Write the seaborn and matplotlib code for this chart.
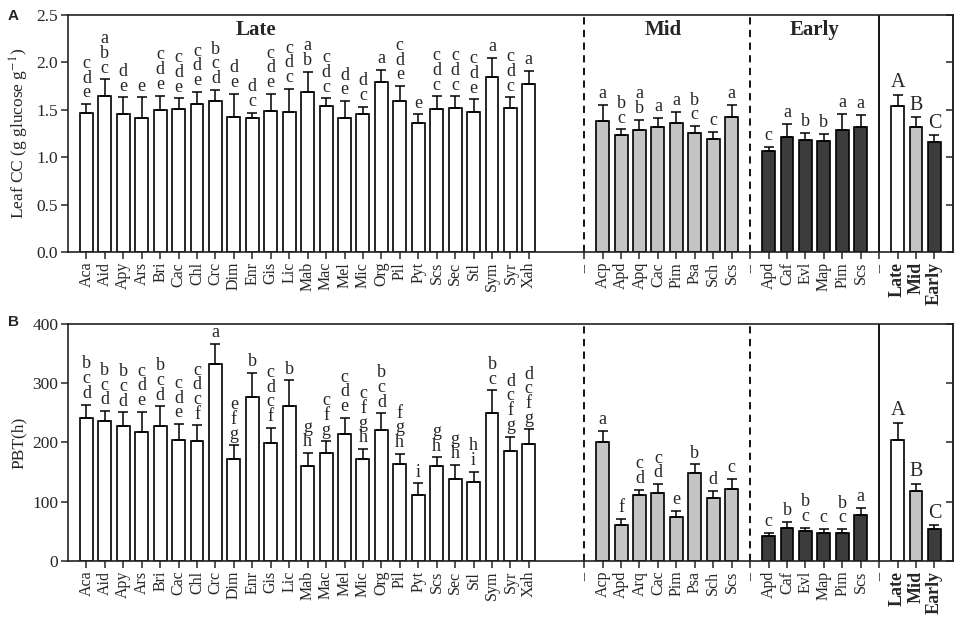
import numpy as np
import pandas as pd
import matplotlib
matplotlib.use("Agg")
import matplotlib.pyplot as plt
import seaborn as sns

# ---------------- data ----------------
late_names = ["Aca", "Aid", "Apy", "Ars", "Bri", "Cac", "Chl", "Crc", "Dim", "Enr",
              "Gis", "Lic", "Mab", "Mac", "Mel", "Mic", "Org", "Pil", "Pyt", "Scs",
              "Sec", "Stl", "Sym", "Syr", "Xah"]
mid_names_a = ["Acp", "Apd", "Apq", "Cac", "Pim", "Psa", "Sch", "Scs"]
mid_names_b = ["Acp", "Apd", "Arq", "Cac", "Pim", "Psa", "Sch", "Scs"]
early_names = ["Apd", "Caf", "Evl", "Map", "Pim", "Scs"]
group_names = ["Late", "Mid", "Early"]

# Panel A: leaf construction cost
late_cc = [1.47, 1.65, 1.45, 1.41, 1.50, 1.51, 1.56, 1.59, 1.42, 1.41, 1.49, 1.48, 1.69,
           1.54, 1.41, 1.46, 1.79, 1.59, 1.36, 1.51, 1.52, 1.48, 1.85, 1.52, 1.77]
late_cc_err = [0.09, 0.17, 0.18, 0.22, 0.15, 0.11, 0.13, 0.12, 0.25, 0.06, 0.18, 0.24, 0.21,
               0.08, 0.18, 0.07, 0.13, 0.16, 0.09, 0.13, 0.12, 0.13, 0.20, 0.11, 0.14]
late_cc_let = ["cde", "abc", "de", "e", "cde", "cde", "cde", "bcd", "de", "dc", "cde", "cdc", "ab",
               "cdc", "de", "dc", "a", "cde", "e", "cdc", "cdc", "cde", "a", "cdc", "a"]
mid_cc = [1.385, 1.234, 1.283, 1.315, 1.361, 1.259, 1.195, 1.42]
mid_cc_err = [0.17, 0.06, 0.11, 0.10, 0.12, 0.07, 0.07, 0.13]
mid_cc_let = ["a", "bc", "ab", "a", "a", "bc", "c", "a"]
early_cc = [1.062, 1.21, 1.178, 1.167, 1.29, 1.315]
early_cc_err = [0.05, 0.14, 0.08, 0.08, 0.17, 0.13]
early_cc_let = ["c", "a", "b", "b", "a", "a"]
group_cc = [1.54, 1.315, 1.16]
group_cc_err = [0.12, 0.105, 0.07]
group_cc_let = ["A", "B", "C"]

# Panel B: PBT (h)
late_pbt = [241, 237, 228, 217, 227, 205, 202, 332, 172, 276, 199, 262, 161,
            183, 214, 172, 221, 164, 112, 160, 138, 134, 250, 185, 197]
late_pbt_err = [23, 16, 23, 35, 34, 26, 27, 34, 23, 42, 26, 43, 21,
                19, 28, 17, 28, 17, 19, 15, 24, 17, 38, 25, 25]
late_pbt_let = ["bcd", "bcd", "bcd", "cde", "bcd", "cde", "cdcf", "a", "efg", "b", "cdcf", "b", "gh",
                "cfg", "cde", "cfgh", "bcd", "fgh", "i", "gh", "gh", "hi", "bc", "dcfg", "dcfg"]
mid_pbt = [201, 61, 112, 115, 74, 148, 107, 121]
mid_pbt_err = [19, 10, 8, 15, 10, 15, 11, 18]
mid_pbt_let = ["a", "f", "cd", "cd", "e", "b", "d", "c"]
early_pbt = [43, 56, 51, 48, 48, 78]
early_pbt_err = [5, 10, 5, 6, 6, 12]
early_pbt_let = ["c", "b", "bc", "c", "bc", "a"]
group_pbt = [204, 118, 54]
group_pbt_err = [29, 12, 6]
group_pbt_let = ["A", "B", "C"]

# ---------------- style ----------------
sns.set_style("ticks")
plt.rcParams["font.family"] = ["Liberation Serif", "DejaVu Serif"]
plt.rcParams["mathtext.fontset"] = "stix"

COLORS = {"Late": "#ffffff", "Mid": "#c4c4c4", "Early": "#3c3c3c"}


def build(mid_names, vals, errs, lets):
    """Return dataframe, category order and tick labels."""
    rows, order, labels = [], [], []

    def add(prefix, names, v, e, l, color):
        for i, n in enumerate(names):
            key = f"{prefix}{i}"
            order.append(key)
            labels.append(n)
            rows.append(dict(key=key, value=v[i], err=e[i], let=l[i], color=color))

    def spacer(key, lab):
        order.append(key)
        labels.append(lab)

    add("L", late_names, vals[0], errs[0], lets[0], "Late")
    spacer("gap1", "")
    spacer("gap2", "")
    spacer("sep1", "--")
    add("M", mid_names, vals[1], errs[1], lets[1], "Mid")
    spacer("sep2", "--")
    add("E", early_names, vals[2], errs[2], lets[2], "Early")
    spacer("sep3", "--")
    add("G", group_names, vals[3], errs[3], lets[3], None)
    df = pd.DataFrame(rows)
    df.loc[df.key.str.startswith("G"), "color"] = group_names
    return df, order, labels


def draw(ax, df, order, labels, ylim, yticks, yfmt, ylabel, let_pad):
    sns.barplot(data=df, x="key", y="value", hue="color", palette=COLORS,
                order=order, hue_order=group_names, dodge=False, width=0.7,
                edgecolor="black", linewidth=1.2, saturation=1, errorbar=None,
                legend=False, ax=ax)
    xs = np.array([order.index(k) for k in df.key])
    ax.errorbar(xs, df.value, yerr=[np.zeros(len(df)), df.err], fmt="none",
                ecolor="black", elinewidth=1.1, capsize=3.5, capthick=1.1, zorder=3)
    for x, (_, r) in zip(xs, df.iterrows()):
        grp = r.key.startswith("G")
        ax.annotate("\n".join(r.let), xy=(x, r.value + r.err), xytext=(0, let_pad),
                    textcoords="offset points", ha="center", va="bottom",
                    fontsize=14.5 if grp else 13, linespacing=0.82)
    # separators
    for k, ls in (("sep1", (0, (4, 3))), ("sep2", (0, (4, 3))), ("sep3", "-")):
        ax.axvline(order.index(k), color="black", lw=1.3, ls=ls, zorder=1)
    ticks = [i for i, l in enumerate(labels) if l != ""]
    ax.set_xticks(ticks)
    ax.set_xticklabels([labels[i] for i in ticks], rotation=90, fontsize=11.5)
    for t, i in zip(ax.get_xticklabels(), ticks):
        if order[i].startswith("G"):
            t.set_fontweight("bold")
            t.set_fontsize(13)
    ax.set_xlim(-1, len(order))
    ax.set_ylim(*ylim)
    ax.set_yticks(yticks)
    ax.set_yticklabels([yfmt.format(v) for v in yticks], fontsize=12.5)
    ax.set_xlabel("")
    ax.set_ylabel(ylabel, fontsize=12.5, labelpad=4)
    for s in ax.spines.values():
        s.set_visible(True)
        s.set_linewidth(1.2)
        s.set_color("#222222")
    ax.tick_params(axis="both", direction="out", length=5, width=1.1, pad=2)
    sec = ax.secondary_yaxis("right")
    sec.set_yticks(yticks)
    sec.tick_params(direction="in", length=5, width=1.1, labelright=False)
    sec.spines["right"].set_linewidth(1.2)


fig = plt.figure(figsize=(9.64, 6.2), dpi=100)
axA = fig.add_axes([0.0705, 0.5935, 0.918, 0.3825])
axB = fig.add_axes([0.0705, 0.0952, 0.918, 0.3822])

dfA, orderA, labA = build(mid_names_a,
                          [late_cc, mid_cc, early_cc, group_cc],
                          [late_cc_err, mid_cc_err, early_cc_err, group_cc_err],
                          [late_cc_let, mid_cc_let, early_cc_let, group_cc_let])
draw(axA, dfA, orderA, labA, (0, 2.5), [0, 0.5, 1.0, 1.5, 2.0, 2.5], "{:.1f}",
     "Leaf CC (g glucose g$^{-1}$)", 2)

dfB, orderB, labB = build(mid_names_b,
                          [late_pbt, mid_pbt, early_pbt, group_pbt],
                          [late_pbt_err, mid_pbt_err, early_pbt_err, group_pbt_err],
                          [late_pbt_let, mid_pbt_let, early_pbt_let, group_pbt_let])
draw(axB, dfB, orderB, labB, (0, 400), [0, 100, 200, 300, 400], "{:.0f}", "PBT(h)", 2)

# group titles (panel A)
for name, x in (("Late", 9.2), ("Mid", 31.3), ("Early", 39.5)):
    axA.text(x, 2.34, name, ha="center", va="center", fontsize=15, fontweight="bold")

fig.text(0.008, 0.985, "A", fontsize=11, fontweight="bold", family="Liberation Sans",
         va="top", ha="left")
fig.text(0.008, 0.492, "B", fontsize=11, fontweight="bold", family="Liberation Sans",
         va="top", ha="left")

fig.savefig("out.png", dpi=100)
